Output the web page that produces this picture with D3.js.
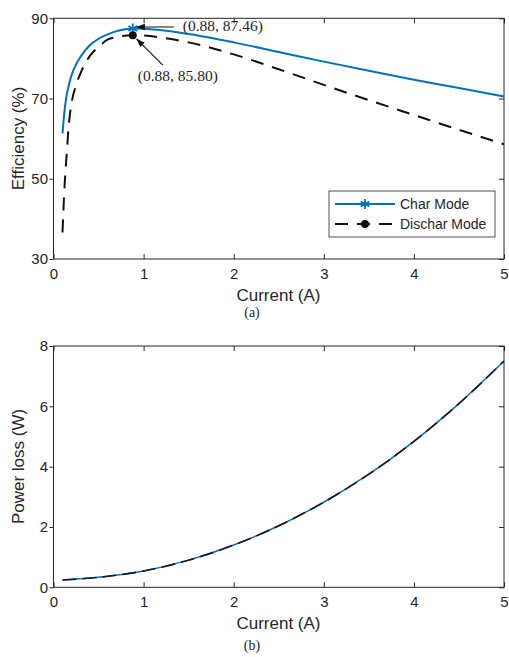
<!DOCTYPE html>
<html>
<head>
<meta charset="utf-8">
<script src="https://cdn.jsdelivr.net/npm/d3@7"></script>
<style>
  body { margin: 0; background: #fff; }
  svg text { fill: #262626; }
</style>
</head>
<body>
<script>
/* efficiency + power loss vs current, two stacked panels */

var W = 509, H = 657;
var sans = "'Liberation Sans', Arial, Helvetica, sans-serif";
var serif = "'Liberation Serif', 'Times New Roman', serif";
var blue = "#0072BD";
var ink = "#262626";

// panel (a) data
var effCurrent = [0.1, 0.12, 0.15, 0.17, 0.2, 0.25, 0.3, 0.4, 0.5, 0.6, 0.7, 0.88, 1.0, 1.25, 1.5, 2.0, 2.5, 3.0, 3.5, 4.0, 4.5, 5.0];
var effChar    = [61.3, 66.5, 71.4, 73.3, 75.8, 78.5, 80.4, 83.2, 84.9, 86.0, 86.8, 87.46, 87.4, 86.9, 86.1, 84.0, 81.6, 79.2, 76.9, 74.7, 72.6, 70.5];
var effDischar = [36.6, 47.0, 57.3, 63.5, 68.8, 73.3, 76.3, 80.5, 82.9, 84.7, 85.3, 85.80, 85.7, 85.0, 84.0, 81.0, 77.3, 73.4, 69.6, 65.9, 62.2, 58.6];
var effTicks = [30, 50, 70, 90];
var peakChar = [0.88, 87.46];
var peakDischar = [0.88, 85.80];

// panel (b) data
var lossCurrent = [0.1, 0.5, 1.0, 1.5, 2.0, 2.5, 3.0, 3.5, 4.0, 4.5, 5.0];
var lossChar    = [0.24, 0.33, 0.54, 0.90, 1.40, 2.04, 2.82, 3.75, 4.84, 6.09, 7.50];
var lossDischar = [0.24, 0.33, 0.54, 0.90, 1.40, 2.04, 2.82, 3.75, 4.84, 6.09, 7.50];
var lossTicks = [0, 2, 4, 6, 8];

var xTicks = [0, 1, 2, 3, 4, 5];
var seriesNames = ["Char Mode", "Dischar Mode"];

var svg = d3.select("body").append("svg")
	.attr("width", W)
	.attr("height", H);

var left = 53.5, right = 504;

function panel(top, bottom, yDomain, yTicks) {
	var x = d3.scaleLinear().domain([0, 5]).range([left, right]);
	var y = d3.scaleLinear().domain(yDomain).range([bottom, top]);
	var g = svg.append("g");

	g.append("g")
		.attr("transform", "translate(0," + bottom + ")")
		.call(d3.axisBottom(x).tickValues(xTicks).tickSizeInner(-5).tickSizeOuter(0).tickPadding(9).tickFormat(d3.format("d")));
	g.append("g")
		.attr("transform", "translate(0," + top + ")")
		.call(d3.axisTop(x).tickValues(xTicks).tickSizeInner(-5).tickSizeOuter(0).tickFormat(""));
	g.append("g")
		.attr("transform", "translate(" + left + ",0)")
		.call(d3.axisLeft(y).tickValues(yTicks).tickSizeInner(4).tickSizeOuter(0).tickPadding(1.5).tickFormat(d3.format("d")));
	g.append("g")
		.attr("transform", "translate(" + right + ",0)")
		.call(d3.axisRight(y).tickValues(yTicks).tickSizeInner(-5).tickSizeOuter(0).tickFormat(""));

	g.selectAll(".domain").remove();
	g.selectAll(".tick line").attr("stroke", ink).attr("stroke-width", 1);
	g.selectAll(".tick text").attr("font-family", sans).attr("font-size", 15).attr("fill", ink);

	g.append("rect")
		.attr("x", left).attr("y", top)
		.attr("width", right - left).attr("height", bottom - top)
		.attr("fill", "none").attr("stroke", ink).attr("stroke-width", 1);

	return { x: x, y: y, g: g };
}

function drawLine(p, xs, ys, color, width, dash, curve) {
	var line = d3.line()
		.x(function(d) { return p.x(d[0]); })
		.y(function(d) { return p.y(d[1]); })
		.curve(curve || d3.curveMonotoneX);
	var path = p.g.append("path")
		.datum(d3.zip(xs, ys))
		.attr("d", line)
		.attr("fill", "none")
		.attr("stroke", color)
		.attr("stroke-width", width);
	if (dash) path.attr("stroke-dasharray", dash);
	return path;
}

var defs = svg.append("defs");
defs.append("marker")
	.attr("id", "arrow")
	.attr("viewBox", "0 0 10 10")
	.attr("refX", 9).attr("refY", 5)
	.attr("markerWidth", 9).attr("markerHeight", 9)
	.attr("markerUnits", "userSpaceOnUse")
	.attr("orient", "auto")
	.append("path")
	.attr("d", "M0,1.5 L10,5 L0,8.5 Z")
	.attr("fill", "#111");

/* ---- (a) efficiency ---- */
var pa = panel(18.3, 259, [30, 90], effTicks);
drawLine(pa, effCurrent, effChar, blue, 2);
drawLine(pa, effCurrent, effDischar, "#111", 2, "13,9");

pa.g.append("path")
	.attr("transform", "translate(" + pa.x(peakChar[0]) + "," + pa.y(peakChar[1]) + ")")
	.attr("d", d3.symbol(d3.symbolAsterisk, 70)())
	.attr("fill", "none").attr("stroke", blue).attr("stroke-width", 1.8);
pa.g.append("circle")
	.attr("cx", pa.x(peakDischar[0])).attr("cy", pa.y(peakDischar[1]))
	.attr("r", 4).attr("fill", "#111");

// arrows + labels
var sx = pa.x(peakChar[0]), sy = pa.y(peakChar[1]);
pa.g.append("line")
	.attr("x1", sx + 41).attr("y1", sy - 1.5)
	.attr("x2", sx + 4).attr("y2", sy - 1.5)
	.attr("stroke", "#111").attr("stroke-width", 1.2)
	.attr("marker-end", "url(#arrow)");
pa.g.append("text")
	.attr("x", sx + 50).attr("y", sy + 3)
	.attr("font-family", serif).attr("font-size", 15.5)
	.text("(" + peakChar[0].toFixed(2) + ", " + peakChar[1].toFixed(2) + ")");

var dx = pa.x(peakDischar[0]), dy = pa.y(peakDischar[1]);
pa.g.append("line")
	.attr("x1", dx + 30).attr("y1", dy + 30)
	.attr("x2", dx + 4).attr("y2", dy + 4)
	.attr("stroke", "#111").attr("stroke-width", 1.2)
	.attr("marker-end", "url(#arrow)");
pa.g.append("text")
	.attr("x", dx + 5).attr("y", dy + 46)
	.attr("font-family", serif).attr("font-size", 15.5)
	.text("(" + peakDischar[0].toFixed(2) + ", " + peakDischar[1].toFixed(2) + ")");

// legend
var leg = svg.append("g");
leg.append("rect")
	.attr("x", 329).attr("y", 191).attr("width", 166).attr("height", 46)
	.attr("fill", "#fff").attr("stroke", ink).attr("stroke-width", 0.8);
seriesNames.forEach(function(name, i) {
	var ly = 204 + i * 20;
	var l = leg.append("line")
		.attr("x1", 335).attr("x2", 395).attr("y1", ly).attr("y2", ly)
		.attr("stroke", i == 0 ? blue : "#111").attr("stroke-width", 2);
	if (i == 1) l.attr("stroke-dasharray", "13,9");
	if (i == 0) {
		leg.append("path")
			.attr("transform", "translate(365," + ly + ")")
			.attr("d", d3.symbol(d3.symbolAsterisk, 70)())
			.attr("fill", "none").attr("stroke", blue).attr("stroke-width", 1.8);
	} else {
		leg.append("circle").attr("cx", 365).attr("cy", ly).attr("r", 4).attr("fill", "#111");
	}
	leg.append("text")
		.attr("x", 400).attr("y", ly + 5)
		.attr("font-family", sans).attr("font-size", 14)
		.text(name);
});

svg.append("text")
	.attr("transform", "translate(24,138.5) rotate(-90)")
	.attr("text-anchor", "middle")
	.attr("font-family", sans).attr("font-size", 17)
	.text("Efficiency (%)");
svg.append("text")
	.attr("x", 278.5).attr("y", 301)
	.attr("text-anchor", "middle")
	.attr("font-family", sans).attr("font-size", 17)
	.text("Current (A)");
svg.append("text")
	.attr("x", 252).attr("y", 317)
	.attr("text-anchor", "middle")
	.attr("font-family", serif).attr("font-size", 14)
	.text("(a)");

/* ---- (b) power loss ---- */
var pb = panel(346, 587.3, [0, 8], lossTicks);
drawLine(pb, lossCurrent, lossChar, blue, 1.5, null, d3.curveCatmullRom);
drawLine(pb, lossCurrent, lossDischar, "#1a1a1a", 1.6, "14,6", d3.curveCatmullRom);

svg.append("text")
	.attr("transform", "translate(24,466.5) rotate(-90)")
	.attr("text-anchor", "middle")
	.attr("font-family", sans).attr("font-size", 17)
	.text("Power loss (W)");
svg.append("text")
	.attr("x", 278.5).attr("y", 629)
	.attr("text-anchor", "middle")
	.attr("font-family", sans).attr("font-size", 17)
	.text("Current (A)");
svg.append("text")
	.attr("x", 252).attr("y", 650)
	.attr("text-anchor", "middle")
	.attr("font-family", serif).attr("font-size", 14)
	.text("(b)");
</script>
</body>
</html>
